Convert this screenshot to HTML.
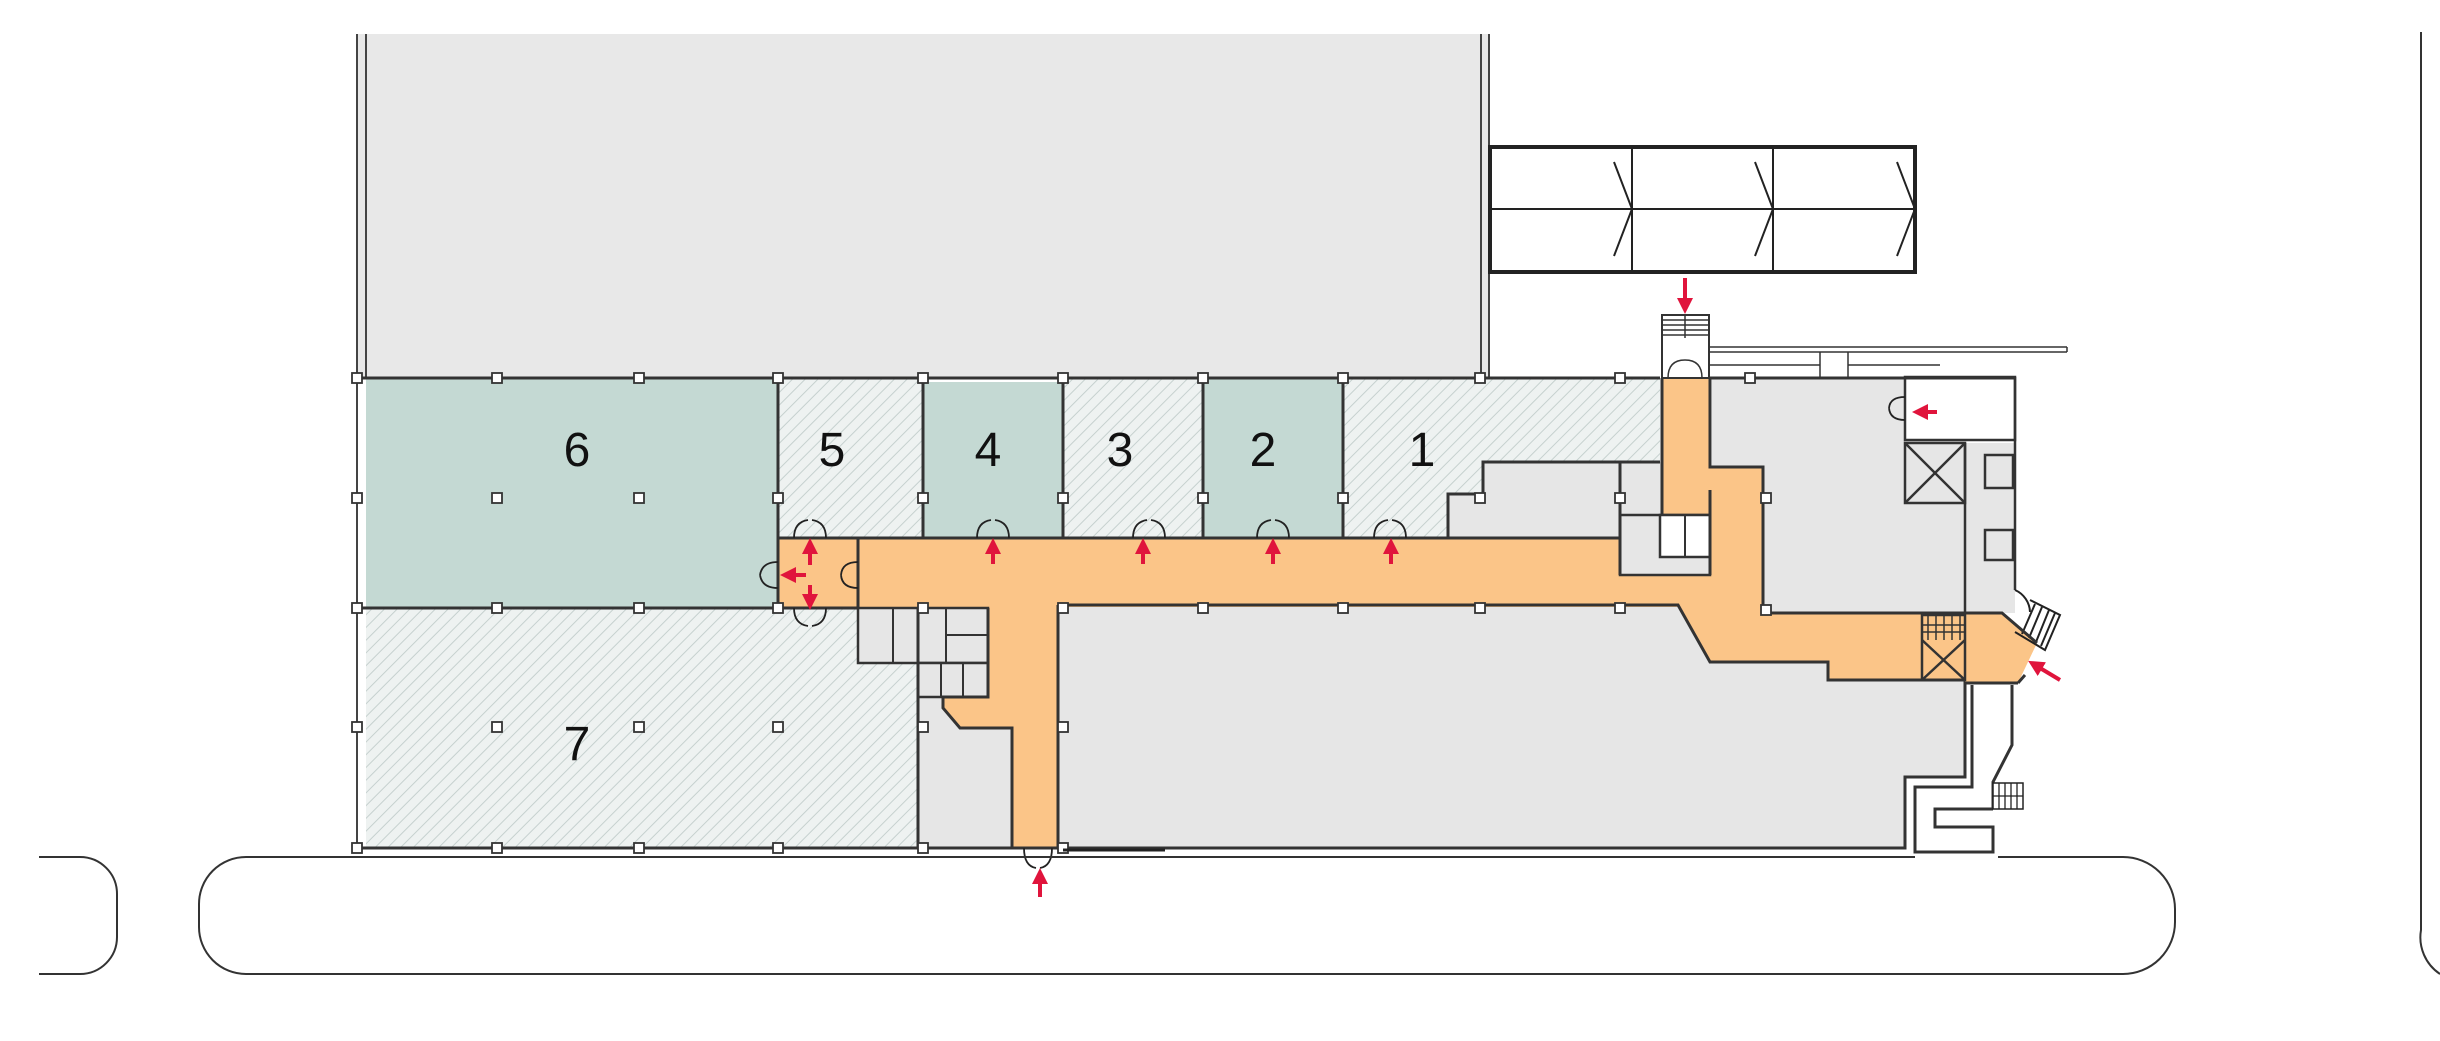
<!DOCTYPE html>
<html><head><meta charset="utf-8"><style>
html,body{margin:0;padding:0;background:#fff;}
svg{display:block;}
text{font-family:"Liberation Sans",sans-serif;}
</style></head><body>
<svg width="2440" height="1041" viewBox="0 0 2440 1041" xmlns="http://www.w3.org/2000/svg">
<defs>
<pattern id="h" patternUnits="userSpaceOnUse" width="9" height="9" patternTransform="rotate(45)">
<rect width="9" height="9" fill="#eef2f1"/><line x1="0" y1="0" x2="0" y2="9" stroke="#c6d1cf" stroke-width="2"/>
</pattern>
<g id="col"><rect x="-5" y="-5" width="10" height="10" fill="#fff" stroke="#333" stroke-width="1.8"/></g>
<marker id="ar" markerWidth="4" markerHeight="4" refX="2" refY="2" orient="auto"><path d="M0,0 L4,2 L0,4z" fill="#e0143c"/></marker>
</defs>

<rect x="358" y="34" width="1130" height="344" fill="#e8e8e8"/>
<g stroke="#444" stroke-width="2" fill="none">
<line x1="357" y1="34" x2="357" y2="850"/><line x1="366" y1="34" x2="366" y2="378"/>
<line x1="1481" y1="34" x2="1481" y2="378"/><line x1="1489" y1="34" x2="1489" y2="378"/>
</g>

<g stroke="#222" fill="none">
<rect x="1490" y="147" width="425" height="125" stroke-width="4" fill="#fff"/>
<line x1="1490" y1="209" x2="1915" y2="209" stroke-width="2"/>
<line x1="1632" y1="147" x2="1632" y2="272" stroke-width="2"/>
<line x1="1773" y1="147" x2="1773" y2="272" stroke-width="2"/>
<polyline points="1614,162 1632,209 1614,256" stroke-width="2"/>
<polyline points="1755,162 1773,209 1755,256" stroke-width="2"/>
<polyline points="1897,162 1915,209 1897,256" stroke-width="2"/>
</g>

<rect x="366" y="378" width="412" height="230" fill="#c4d9d3"/>
<rect x="778" y="378" width="145" height="160" fill="url(#h)"/>
<rect x="923" y="382" width="140" height="156" fill="#c4d9d3"/>
<rect x="1063" y="378" width="140" height="160" fill="url(#h)"/>
<rect x="1203" y="378" width="140" height="160" fill="#c4d9d3"/>
<path d="M1343,378 H1660 V462 H1483 V494 H1448 V538 H1343Z" fill="url(#h)"/>
<path d="M1483,462 H1620 V538 H1448 V494 H1483Z" fill="#e6e6e6"/>
<rect x="366" y="608" width="552" height="240" fill="url(#h)"/>
<rect x="918" y="608" width="140" height="240" fill="#e6e6e6"/>
<path d="M1058,605 H1678 L1710,662 H1828 V680 H1965 V777 H1905 V848 H1058Z" fill="#e6e6e6"/>
<rect x="1712" y="378" width="193" height="235" fill="#e6e6e6"/>
<rect x="1905" y="443" width="110" height="170" fill="#e6e6e6"/>
<rect x="1620" y="462" width="42" height="113" fill="#e6e6e6"/>

<path fill="#fbc588" d="M778,538 H1620 V515 H1662 V378 H1710 V467 H1763 V613 H2002 L2037,643 L2018,683 H1965 V680 H1828 V662 H1710 L1678,607 H1058 V848 H1012 V728 H960 L943,708 V697 H988 V608 H778Z"/>

<g stroke="#333" stroke-width="2.5" fill="#e6e6e6">
<rect x="858" y="608" width="130" height="55"/>
<rect x="918" y="663" width="70" height="34"/>
</g>
<g stroke="#333" stroke-width="2">
<line x1="893" y1="608" x2="893" y2="663"/><line x1="918" y1="608" x2="918" y2="663"/>
<line x1="946" y1="608" x2="946" y2="663"/><line x1="946" y1="635" x2="988" y2="635"/>
<line x1="941" y1="663" x2="941" y2="697"/><line x1="963" y1="663" x2="963" y2="697"/>
</g>

<g stroke="#333" stroke-width="2.5" fill="#e6e6e6">
<rect x="1620" y="515" width="90" height="60"/>
<rect x="1660" y="515" width="50" height="42" fill="#fff"/>
</g>
<line x1="1685" y1="515" x2="1685" y2="557" stroke="#333" stroke-width="2"/>

<rect x="1905" y="377" width="110" height="63" fill="#fff" stroke="#333" stroke-width="2.5"/>
<g stroke="#333" stroke-width="2.5" fill="none">
<rect x="1905" y="443" width="60" height="60"/><line x1="1905" y1="443" x2="1965" y2="503"/><line x1="1965" y1="443" x2="1905" y2="503"/>
<line x1="1965" y1="443" x2="1965" y2="613"/><line x1="2015" y1="377" x2="2015" y2="590"/>
<rect x="1985" y="455" width="28" height="33"/><rect x="1985" y="530" width="28" height="30"/>
<rect x="1922" y="615" width="43" height="65"/><line x1="1922" y1="640" x2="1965" y2="680"/><line x1="1965" y1="640" x2="1922" y2="680"/>
</g>
<g stroke="#333" stroke-width="1.5">
<line x1="1922" y1="625" x2="1965" y2="625"/><line x1="1922" y1="632" x2="1965" y2="632"/>
<line x1="1928" y1="615" x2="1928" y2="640"/><line x1="1936" y1="615" x2="1936" y2="640"/><line x1="1944" y1="615" x2="1944" y2="640"/><line x1="1952" y1="615" x2="1952" y2="640"/><line x1="1960" y1="615" x2="1960" y2="640"/>
</g>
<g stroke="#222" stroke-width="2" fill="none">
<path d="M2030,600 L2060,615 L2045,650 L2015,632"/>
<line x1="2035" y1="604" x2="2022" y2="634"/><line x1="2042" y1="607" x2="2029" y2="638"/><line x1="2049" y1="610" x2="2036" y2="642"/><line x1="2055" y1="613" x2="2041" y2="646"/>
<path d="M2015,590 A25,25 0 0 1 2030,612"/>
</g>

<g stroke="#333" stroke-width="3" fill="none">
<line x1="357" y1="378" x2="1660" y2="378"/>
<line x1="1710" y1="378" x2="2015" y2="378"/>
<line x1="778" y1="378" x2="778" y2="538"/><line x1="923" y1="378" x2="923" y2="538"/>
<line x1="1063" y1="378" x2="1063" y2="538"/><line x1="1203" y1="378" x2="1203" y2="538"/><line x1="1343" y1="378" x2="1343" y2="538"/>
<line x1="778" y1="538" x2="1620" y2="538"/>
<line x1="357" y1="608" x2="858" y2="608"/>
<line x1="858" y1="538" x2="858" y2="608"/>
<line x1="778" y1="538" x2="778" y2="608"/>
<line x1="918" y1="608" x2="918" y2="848"/>
<polyline points="988,608 988,697 943,697 943,708 960,728 1012,728 1012,848"/>
<line x1="1058" y1="605" x2="1058" y2="848"/>
<polyline points="1058,605 1678,605 1710,662 1828,662 1828,680 1965,680"/>
<polyline points="1448,538 1448,494 1483,494 1483,462 1660,462"/>
<line x1="1620" y1="462" x2="1620" y2="575"/>
<line x1="1662" y1="378" x2="1662" y2="515"/>
<polyline points="1710,378 1710,467 1763,467 1763,613 2002,613 2037,643"/>
<line x1="1710" y1="490" x2="1710" y2="575"/>
<polyline points="2018,683 1965,683 1965,777 1905,777 1905,848 357,848"/>
<polyline points="1972,685 1972,787 1915,787 1915,852 1993,852 1993,827 1935,827 1935,809 1993,809"/>
<polyline points="2012,685 2012,745 1993,782 1993,809"/>
<line x1="2018" y1="683" x2="2025" y2="675"/>
</g>
<rect x="1993" y="783" width="30" height="26" fill="#fff" stroke="#222" stroke-width="1.5"/>
<g stroke="#222" stroke-width="1.3"><line x1="1999" y1="783" x2="1999" y2="809"/><line x1="2005" y1="783" x2="2005" y2="809"/><line x1="2011" y1="783" x2="2011" y2="809"/><line x1="2017" y1="783" x2="2017" y2="809"/><line x1="1993" y1="796" x2="2023" y2="796"/></g>

<rect x="1662" y="315" width="47" height="63" fill="#fff" stroke="#333" stroke-width="2"/>
<g stroke="#333" stroke-width="1.5"><line x1="1662" y1="320" x2="1709" y2="320"/><line x1="1662" y1="325" x2="1709" y2="325"/><line x1="1662" y1="330" x2="1709" y2="330"/><line x1="1662" y1="335" x2="1709" y2="335"/><line x1="1685" y1="315" x2="1685" y2="338"/></g>
<g stroke="#333" stroke-width="1.5" fill="none">
<line x1="1709" y1="347" x2="2067" y2="347"/><line x1="2067" y1="347" x2="2067" y2="352"/><line x1="1709" y1="352" x2="2067" y2="352"/>
<line x1="1709" y1="365" x2="1820" y2="365"/><line x1="1848" y1="365" x2="1940" y2="365"/>
<line x1="1820" y1="352" x2="1820" y2="378"/><line x1="1848" y1="352" x2="1848" y2="378"/>
<path d="M1668,378 Q1668,360 1685,360 Q1702,360 1702,378"/>
</g>

<g stroke="#222" stroke-width="1.8" fill="none">
<path d="M794,538 Q794,522 808,520 M826,538 Q826,522 812,520"/>
<path d="M794,608 Q794,624 808,626 M826,608 Q826,624 812,626"/>
<path d="M778,562 Q762,562 760,575 M778,588 Q762,588 760,575"/>
<path d="M858,562 Q842,562 841,575 M858,588 Q842,588 841,575"/>
<path d="M977,538 Q977,522 991,520 M1009,538 Q1009,522 995,520"/>
<path d="M1133,538 Q1133,522 1147,520 M1165,538 Q1165,522 1151,520"/>
<path d="M1257,538 Q1257,522 1271,520 M1289,538 Q1289,522 1275,520"/>
<path d="M1374,538 Q1374,522 1388,520 M1406,538 Q1406,522 1392,520"/>
<path d="M1905,397 Q1890,397 1889,408 M1905,420 Q1890,420 1889,408"/>
<path d="M1024,848 Q1024,866 1036,868 M1052,848 Q1052,866 1040,868"/>
</g>

<g>
<use href="#col" x="357" y="378"/><use href="#col" x="497" y="378"/><use href="#col" x="639" y="378"/><use href="#col" x="778" y="378"/><use href="#col" x="923" y="378"/><use href="#col" x="1063" y="378"/><use href="#col" x="1203" y="378"/><use href="#col" x="1343" y="378"/><use href="#col" x="1480" y="378"/><use href="#col" x="1620" y="378"/><use href="#col" x="1750" y="378"/>
<use href="#col" x="357" y="498"/><use href="#col" x="497" y="498"/><use href="#col" x="639" y="498"/><use href="#col" x="778" y="498"/><use href="#col" x="923" y="498"/><use href="#col" x="1063" y="498"/><use href="#col" x="1203" y="498"/><use href="#col" x="1343" y="498"/><use href="#col" x="1480" y="498"/><use href="#col" x="1620" y="498"/><use href="#col" x="1766" y="498"/>
<use href="#col" x="357" y="608"/><use href="#col" x="497" y="608"/><use href="#col" x="639" y="608"/><use href="#col" x="778" y="608"/><use href="#col" x="923" y="608"/><use href="#col" x="1063" y="608"/><use href="#col" x="1203" y="608"/><use href="#col" x="1343" y="608"/><use href="#col" x="1480" y="608"/><use href="#col" x="1620" y="608"/><use href="#col" x="1766" y="610"/>
<use href="#col" x="357" y="727"/><use href="#col" x="497" y="727"/><use href="#col" x="639" y="727"/><use href="#col" x="778" y="727"/><use href="#col" x="923" y="727"/><use href="#col" x="1063" y="727"/>
<use href="#col" x="357" y="848"/><use href="#col" x="497" y="848"/><use href="#col" x="639" y="848"/><use href="#col" x="778" y="848"/><use href="#col" x="923" y="848"/><use href="#col" x="1063" y="848"/>
</g>
<line x1="1063" y1="850" x2="1165" y2="850" stroke="#222" stroke-width="3"/>

<g font-size="48" text-anchor="middle" fill="#111">
<text x="577" y="466">6</text><text x="832" y="466">5</text><text x="988" y="466">4</text>
<text x="1120" y="466">3</text><text x="1263" y="466">2</text><text x="1422" y="466">1</text>
<text x="577" y="760">7</text>
</g>

<g stroke="#e0143c" stroke-width="4" marker-end="url(#ar)">
<line x1="810" y1="565" x2="810" y2="546"/>
<line x1="806" y1="575" x2="788" y2="575"/>
<line x1="810" y1="585" x2="810" y2="602"/>
<line x1="993" y1="564" x2="993" y2="546"/>
<line x1="1143" y1="564" x2="1143" y2="546"/>
<line x1="1273" y1="564" x2="1273" y2="546"/>
<line x1="1391" y1="564" x2="1391" y2="546"/>
<line x1="1040" y1="897" x2="1040" y2="876"/>
<line x1="1685" y1="278" x2="1685" y2="306"/>
<line x1="1937" y1="412" x2="1920" y2="412"/>
<line x1="2060" y1="680" x2="2035" y2="665"/>
</g>

<g stroke="#333" stroke-width="2" fill="none">
<path d="M357,857 H246 A47,47 0 0 0 199,904 V927 A47,47 0 0 0 246,974 H2123 A52,52 0 0 0 2175,922 V909 A52,52 0 0 0 2123,857 H1998"/>
<line x1="357" y1="857" x2="1915" y2="857"/>
<path d="M39,857 H80 A37,37 0 0 1 117,894 V937 A37,37 0 0 1 80,974 H39"/>
<path d="M2421,32 V930 A44,44 0 0 0 2440,974"/>
</g>
</svg>
</body></html>
